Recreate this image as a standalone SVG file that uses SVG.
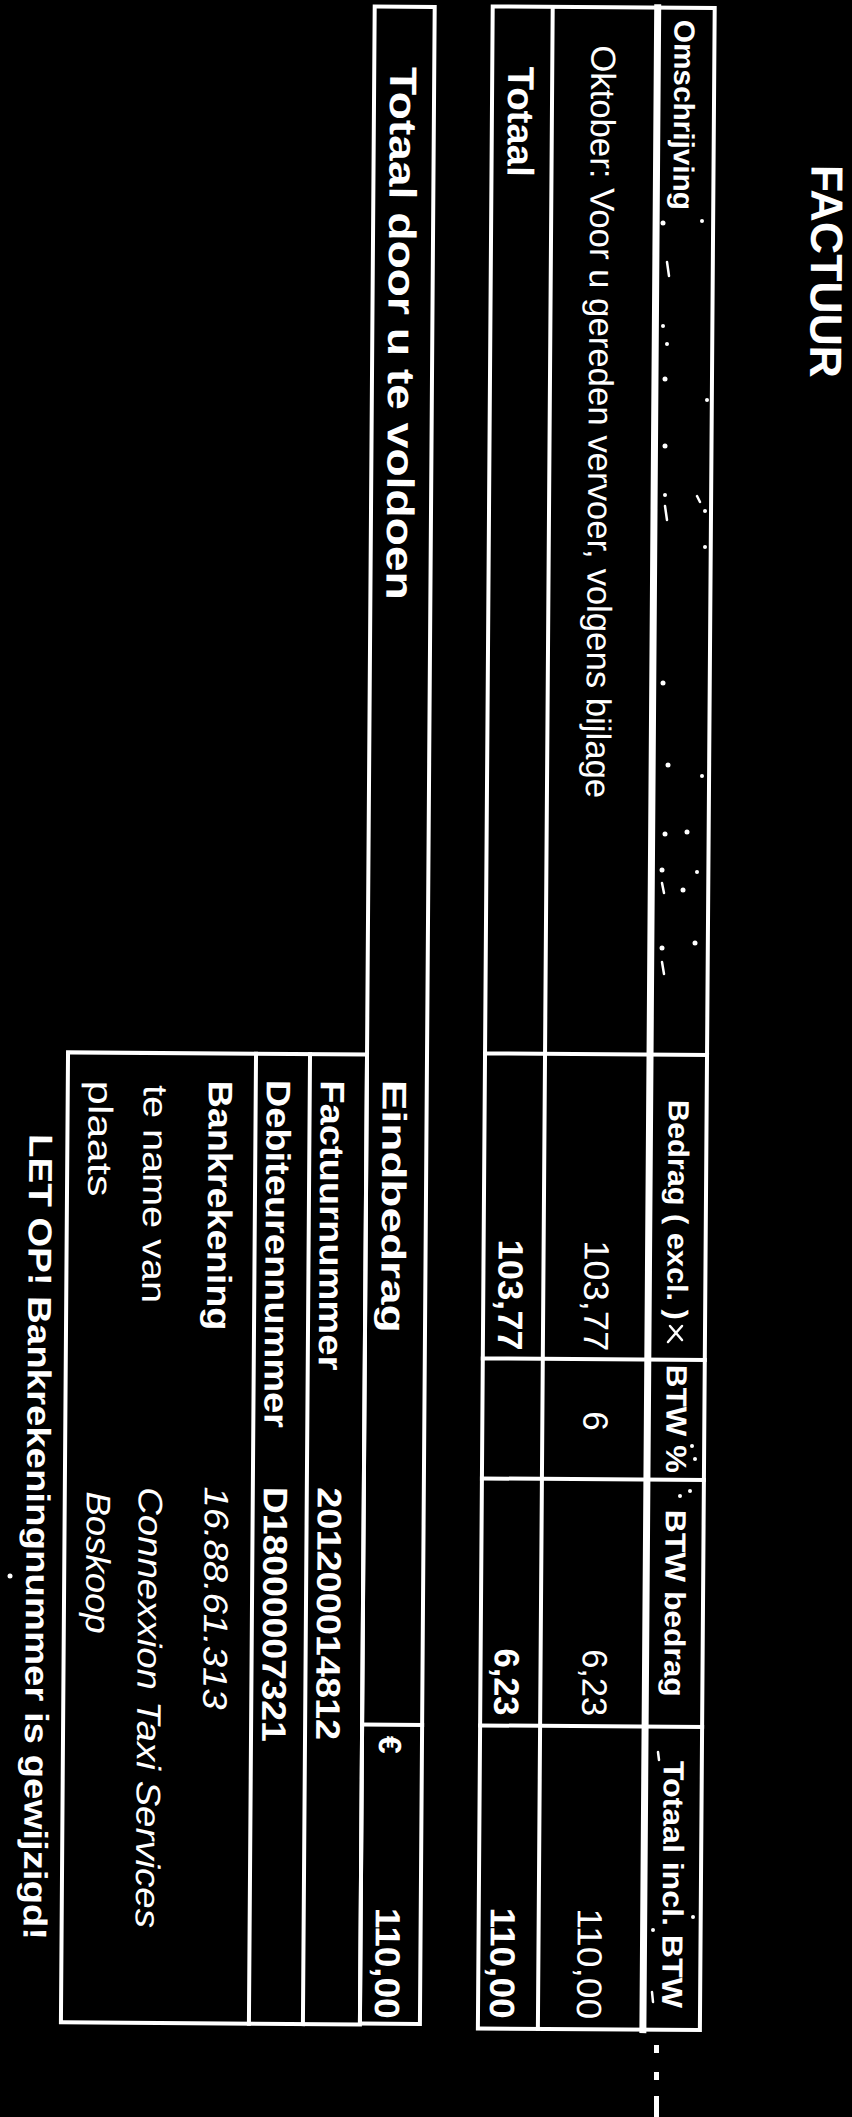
<svg xmlns="http://www.w3.org/2000/svg" width="852" height="2117" viewBox="0 0 852 2117">
<style>
.ln{stroke:#fff;stroke-width:4;fill:none;stroke-linecap:square}
.thick{stroke-width:7}
text{fill:#fff;font-family:"Liberation Sans",Arial,sans-serif}
.b{font-weight:bold}
.i{font-style:italic}
.hd{font-size:29px;font-weight:bold}
.rw{font-size:35px}
.bx{font-size:34px}
.sp{fill:#fff}
.sk{stroke:#fff;stroke-width:2.5;fill:none;stroke-linecap:round}
</style>
<rect x="0" y="0" width="852" height="2117" fill="#000"/>
<g transform="rotate(0.42 426 1058)">
<g id="title">
<text class="b" font-size="45" transform="translate(805,162) rotate(90)" textLength="213" lengthAdjust="spacingAndGlyphs">FACTUUR</text>
</g>
<g id="connectors">
<g id="main-table-lines" class="ln">
<rect x="485" y="6" width="222" height="2022"/>
<line class="thick" x1="650" y1="6" x2="650" y2="2028"/>
<line x1="545" y1="6" x2="545" y2="2028"/>
<line x1="485" y1="1053" x2="707" y2="1053"/>
<line x1="485" y1="1358" x2="707" y2="1358"/>
<line x1="485" y1="1478" x2="707" y2="1478"/>
<line x1="485" y1="1725" x2="707" y2="1725"/>
</g>
<g id="total-box-lines" class="ln">
<rect x="367" y="7" width="60" height="2017"/>
<line x1="367" y1="1725" x2="427" y2="1725"/>
</g>
<g id="info-box-lines" class="ln">
<rect x="68" y="1055" width="299" height="970"/>
<line x1="256" y1="1055" x2="256" y2="2025"/>
<line x1="310" y1="1055" x2="310" y2="2025"/>
</g>
</g>
<g id="header-row">
<text class="hd" transform="translate(667,18) rotate(90)" textLength="190" lengthAdjust="spacingAndGlyphs">Omschrijving</text>
<text class="hd" transform="translate(669,1098) rotate(90)" textLength="220" lengthAdjust="spacingAndGlyphs">Bedrag ( excl. )</text>
<text class="hd" transform="translate(669,1363) rotate(90)" textLength="108" lengthAdjust="spacingAndGlyphs">BTW %</text>
<text class="hd" transform="translate(669,1508) rotate(90)" textLength="187" lengthAdjust="spacingAndGlyphs">BTW bedrag</text>
<text class="hd" transform="translate(669,1759) rotate(90)" textLength="247" lengthAdjust="spacingAndGlyphs">Totaal incl. BTW</text>
</g>
<g id="oktober-row">
<text font-size="34.5" transform="translate(584,44) rotate(90)" textLength="753" lengthAdjust="spacingAndGlyphs">Oktober: Voor u gereden vervoer, volgens bijlage</text>
<text class="rw" transform="translate(586,1239) rotate(90)" textLength="111" lengthAdjust="spacingAndGlyphs">103,77</text>
<text class="rw" transform="translate(586,1410) rotate(90)">6</text>
<text class="rw" transform="translate(587,1648) rotate(90)" textLength="67" lengthAdjust="spacingAndGlyphs">6,23</text>
<text class="rw" transform="translate(584,1907) rotate(90)" textLength="111" lengthAdjust="spacingAndGlyphs">110,00</text>
</g>
<g id="totaal-row">
<text class="b" font-size="37" transform="translate(501,66) rotate(90)" textLength="110" lengthAdjust="spacingAndGlyphs">Totaal</text>
<text class="rw b" transform="translate(500,1239) rotate(90)" textLength="111" lengthAdjust="spacingAndGlyphs">103,77</text>
<text class="rw b" transform="translate(499,1648) rotate(90)" textLength="67" lengthAdjust="spacingAndGlyphs">6,23</text>
<text class="rw b" transform="translate(497,1907) rotate(90)" textLength="111" lengthAdjust="spacingAndGlyphs">110,00</text>
</g>
<g id="total-box">
<text class="b" font-size="38" transform="translate(383,67) rotate(90)" textLength="533" lengthAdjust="spacingAndGlyphs">Totaal door u te voldoen</text>
<text class="b" font-size="34" transform="translate(383,1080) rotate(90)" textLength="253" lengthAdjust="spacingAndGlyphs">Eindbedrag</text>
<text class="b" font-size="32" transform="translate(384,1736) rotate(90)">€</text>
<text class="rw b" transform="translate(382,1908) rotate(90)" textLength="111" lengthAdjust="spacingAndGlyphs">110,00</text>
</g>
<g id="info-box">
<text class="bx b" transform="translate(321,1081) rotate(90)" textLength="290" lengthAdjust="spacingAndGlyphs">Factuurnummer</text>
<text class="bx b" transform="translate(321,1488) rotate(90)" textLength="253" lengthAdjust="spacingAndGlyphs">201200014812</text>
<text class="bx b" transform="translate(267,1081) rotate(90)" textLength="348" lengthAdjust="spacingAndGlyphs">Debiteurennummer</text>
<text class="bx b" transform="translate(267,1488) rotate(90)" textLength="255" lengthAdjust="spacingAndGlyphs">D18000007321</text>
<text class="bx b" transform="translate(209,1082) rotate(90)" textLength="250" lengthAdjust="spacingAndGlyphs">Bankrekening</text>
<text class="bx i" transform="translate(208,1488) rotate(90)" textLength="223" lengthAdjust="spacingAndGlyphs">16.88.61.313</text>
<text class="bx" transform="translate(144,1087) rotate(90)" textLength="218" lengthAdjust="spacingAndGlyphs">te name van</text>
<text class="bx i" transform="translate(142,1489) rotate(90)" textLength="441" lengthAdjust="spacingAndGlyphs">Connexxion Taxi Services</text>
<text class="bx" transform="translate(89,1083) rotate(90)" textLength="116" lengthAdjust="spacingAndGlyphs">plaats</text>
<text class="bx i" transform="translate(90,1494) rotate(90)" textLength="142" lengthAdjust="spacingAndGlyphs">Boskoop</text>
</g>
<g id="notice">
<text class="b" font-size="33" transform="translate(30,1137) rotate(90)" textLength="806" lengthAdjust="spacingAndGlyphs">LET OP! Bankrekeningnummer is gewijzigd!</text>
</g>
</g>
<g id="specks">
<g class="sp">
<circle cx="663" cy="223" r="2.5"/><circle cx="702" cy="221" r="2"/>
<circle cx="663" cy="326" r="2"/><circle cx="667" cy="344" r="2"/>
<circle cx="665" cy="379" r="2.5"/><circle cx="707" cy="400" r="2"/>
<circle cx="665" cy="446" r="2.5"/><circle cx="665" cy="495" r="2"/>
<circle cx="705" cy="511" r="2"/><circle cx="705" cy="547" r="2"/>
<circle cx="663" cy="683" r="2.5"/><circle cx="668" cy="765" r="2.5"/>
<circle cx="702" cy="776" r="2"/><circle cx="665" cy="834" r="2.5"/>
<circle cx="687" cy="832" r="2.5"/><circle cx="662" cy="870" r="2.5"/>
<circle cx="683" cy="890" r="2.5"/><circle cx="697" cy="872" r="2"/>
<circle cx="662" cy="948" r="2.5"/><circle cx="695" cy="943" r="2.5"/>
<circle cx="692" cy="1446" r="2"/><circle cx="695" cy="1459" r="2"/>
<circle cx="680" cy="1496" r="2"/><circle cx="690" cy="1491" r="2"/>
<circle cx="693" cy="1917" r="2"/><circle cx="653" cy="1930" r="2"/>
<circle cx="10" cy="1576" r="2.5"/>
<rect x="654" y="2045" width="5" height="8"/>
<rect x="654" y="2072" width="5" height="8"/>
<rect x="654" y="2096" width="5" height="21"/>
</g>
<g class="sk">
<path d="M667 262 L669 276"/>
<path d="M665 506 L667 520"/>
<path d="M697 496 L700 502"/>
<path d="M662 883 L664 893"/>
<path d="M662 962 L664 974"/>
<path d="M670 1326 L682 1340 M682 1326 L668 1342"/>
<path d="M658 1752 L659 1760"/>
<path d="M652 1992 L653 2002"/>
</g>
</g>
</svg>
